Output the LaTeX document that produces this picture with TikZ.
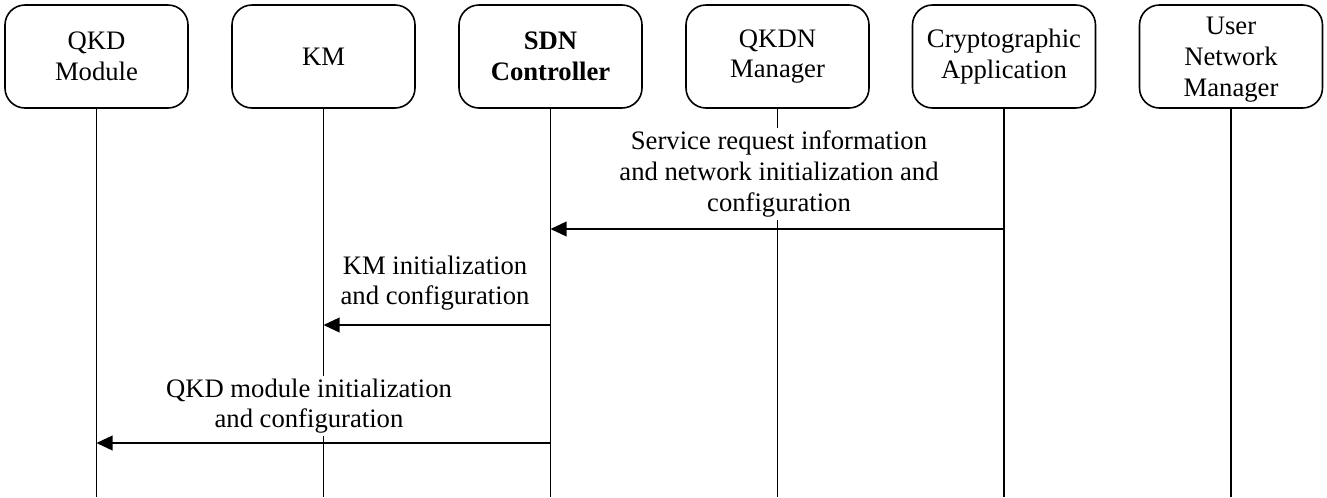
\documentclass[tikz,border=0pt]{standalone}
\usepackage{fontspec}
\setmainfont{Liberation Serif}
\newfontfamily\diagfont{Liberation Serif}
\usetikzlibrary{arrows.meta}
\begin{document}
\begin{tikzpicture}[x=0.75pt,y=-0.75pt,
  every node/.style={font=\diagfont\fontsize{20pt}{23pt}\selectfont},
  actor/.style={draw,line width=1.2pt,rounded corners=15pt,align=center,
    minimum width=137.25pt,minimum height=77.25pt,inner sep=0pt},
  lifeline/.style={line width=1.2pt},
  msglabel/.style={fill=white,align=center,inner sep=2pt},
  msg/.style={line width=1.2pt,-{Triangle[length=12pt,width=11pt]}}]
\useasboundingbox (0,0) rectangle (1327,497);

% participants
\node[actor] (qkd)  at (96.5,56.5)  {QKD\\Module};
\node[actor] (km)   at (323.5,56.5) {KM};
\node[actor] (sdn)  at (550.5,56.5) {\textbf{SDN}\\\textbf{Controller}};
\node[actor] (qkdn) at (777.5,56.5) {QKDN\\Manager};
\node[actor] (app)  at (1004,56.5)  {Cryptographic\\Application};
\node[actor] (unm)  at (1231,56.5)  {\rule{0pt}{17.7pt}User\\Network\\Manager};

% lifeline ends
\foreach \n in {qkd,km,sdn,qkdn,app,unm}
  \coordinate (\n end) at (\n.south |- 0,497);
\foreach \n in {qkd,km,sdn,qkdn,app,unm}
  \draw[lifeline] (\n.south) -- (\n end);

% message anchor points on the lifelines
\coordinate (appA) at (app.south |- 0,229);
\coordinate (sdnA) at (sdn.south |- 0,229);
\coordinate (sdnB) at (sdn.south |- 0,325);
\coordinate (kmB)  at (km.south |- 0,325);
\coordinate (sdnC) at (sdn.south |- 0,443);
\coordinate (qkdC) at (qkd.south |- 0,443);

% message labels
\node[msglabel] (l1) at (779,174) {Service request information\\and network initialization and\\configuration};
\node[msglabel] (l2) at (435,283) {KM initialization\\and configuration};
\node[msglabel] (l3) at (309,406) {QKD module initialization\\and configuration};

% messages
\draw[msg] (appA) -- (sdnA);
\draw[msg] (sdnB) -- (kmB);
\draw[msg] (sdnC) -- (qkdC);
\end{tikzpicture}
\end{document}
